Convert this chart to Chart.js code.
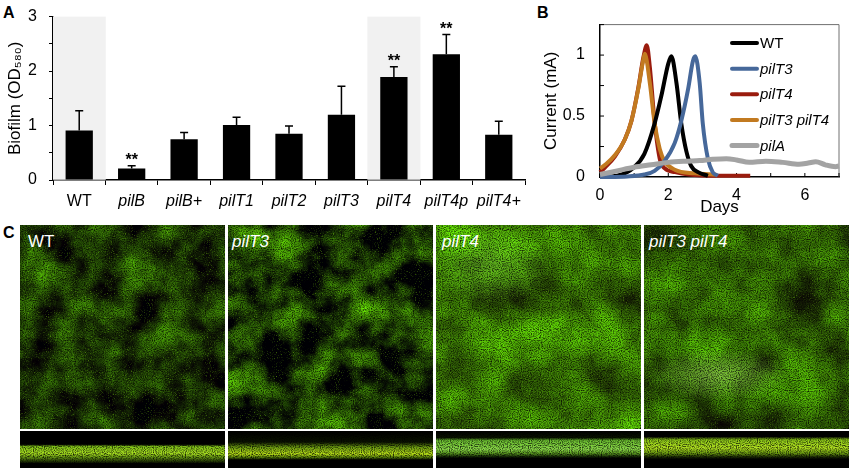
<!DOCTYPE html>
<html>
<head>
<meta charset="utf-8">
<script src="https://cdn.jsdelivr.net/npm/chart.js@4.4.0/dist/chart.umd.min.js"></script>
<style>
body{margin:0;background:#fff;width:852px;height:471px;overflow:hidden;position:relative;font-family:"Liberation Sans",Arial,sans-serif}
.plab{position:absolute;font-weight:bold;font-size:16px;color:#000;line-height:16px}
#boxA{position:absolute;left:0;top:-5px;width:540px;height:220px}
#boxB{position:absolute;left:535px;top:0;width:317px;height:225px}
.img{position:absolute;top:225px;width:205px;height:204px;background-color:#2a4a08}
.strip{position:absolute;top:431px;width:205px;height:37px;background-color:#000}
.ilab{position:absolute;top:232px;color:#fff;font-size:17px;line-height:20px}
.ilab i{font-style:italic}
</style>
</head>
<body>
<div class="plab" style="left:3px;top:5px">A</div>
<div class="plab" style="left:537px;top:5px">B</div>
<div class="plab" style="left:3px;top:225px">C</div>
<div id="boxA"><canvas id="chartA"></canvas></div>
<div id="boxB"><canvas id="chartB"></canvas></div>

<div class="img" id="c1" style="left:20px"></div>
<div class="img" id="c2" style="left:228px"></div>
<div class="img" id="c3" style="left:436px"></div>
<div class="img" id="c4" style="left:644px"></div>
<div class="strip" id="s1" style="left:20px"></div>
<div class="strip" id="s2" style="left:228px"></div>
<div class="strip" id="s3" style="left:436px"></div>
<div class="strip" id="s4" style="left:644px"></div>
<div class="ilab" style="left:28px">WT</div>
<div class="ilab" style="left:232px"><i>pilT3</i></div>
<div class="ilab" style="left:442px"><i>pilT4</i></div>
<div class="ilab" style="left:649px"><i>pilT3 pilT4</i></div>

<script>
// panel A: biofilm
const strains = ['WT', 'pilB', 'pilB+', 'pilT1', 'pilT2', 'pilT3', 'pilT4', 'pilT4p', 'pilT4+'];
const biofilm = [0.91, 0.21, 0.75, 1.01, 0.85, 1.20, 1.89, 2.31, 0.83];
const biofilmErr = [0.36, 0.05, 0.12, 0.14, 0.14, 0.52, 0.19, 0.36, 0.25];
const signif = ['', '**', '', '', '', '', '**', '**', ''];
const shaded = [3, null, null, null, null, null, 3, null, null];

// panel B: current vs days
const wtDays = [0, 0.5, 1.0, 1.3, 1.6, 1.8, 2.0, 2.09, 2.24, 2.38, 2.53, 2.67, 2.87, 3.16];
const wtCur = [0, 0.01, 0.08, 0.19, 0.44, 0.67, 0.93, 0.99, 0.77, 0.44, 0.21, 0.09, 0.04, 0.01];
const t3Days = [0, 0.8, 1.3, 1.6, 1.89, 2.19, 2.38, 2.58, 2.72, 2.79, 2.92, 3.01, 3.16, 3.3, 3.45];
const t3Cur = [0, 0.005, 0.02, 0.05, 0.13, 0.28, 0.46, 0.72, 0.95, 0.99, 0.77, 0.44, 0.15, 0.04, 0.01];
const t4Days = [0, 0.15, 0.44, 0.73, 0.92, 1.12, 1.27, 1.37, 1.46, 1.6, 1.75, 1.9, 2.2, 2.6, 3.4, 4.4];
const t4Cur = [0.04, 0.08, 0.17, 0.31, 0.46, 0.73, 0.98, 1.08, 0.90, 0.45, 0.15, 0.07, 0.04, 0.02, 0.01, 0.01];
const t34Days = [0, 0.15, 0.44, 0.73, 0.92, 1.12, 1.26, 1.31, 1.46, 1.6, 1.75, 1.89, 2.19, 2.77, 3.4];
const t34Cur = [0.07, 0.10, 0.18, 0.31, 0.46, 0.72, 0.95, 1.01, 0.77, 0.44, 0.23, 0.13, 0.06, 0.03, 0.02];
const pilADays = [0, 0.5, 1, 1.5, 2, 2.5, 2.92, 3.3, 3.7, 4.0, 4.37, 4.86, 5.35, 5.83, 6.1, 6.32, 6.6, 6.9, 7];
const pilACur = [0.02, 0.05, 0.08, 0.10, 0.12, 0.13, 0.135, 0.145, 0.15, 0.14, 0.12, 0.13, 0.12, 0.105, 0.115, 0.125, 0.10, 0.085, 0.09];

const FONT = '"Liberation Sans", Arial, sans-serif';
Chart.defaults.font.family = FONT;
Chart.defaults.color = '#000';

function pts(xs, ys) {
  return xs.map((x, i) => ({x: x, y: ys[i]}));
}

const errorBars = {
  id: 'errorBars',
  afterDatasetsDraw(chart) {
    const ctx = chart.ctx;
    const y = chart.scales.y;
    const meta = chart.getDatasetMeta(0);
    ctx.save();
    ctx.strokeStyle = '#000';
    ctx.lineWidth = 1.5;
    meta.data.forEach((bar, i) => {
      const top = y.getPixelForValue(biofilm[i] + biofilmErr[i]);
      ctx.beginPath();
      ctx.moveTo(bar.x, bar.y);
      ctx.lineTo(bar.x, top);
      ctx.moveTo(bar.x - 4, top);
      ctx.lineTo(bar.x + 4, top);
      ctx.stroke();
      if (signif[i]) {
        ctx.font = 'bold 16px ' + FONT;
        ctx.fillStyle = '#000';
        ctx.textAlign = 'center';
        ctx.textBaseline = 'alphabetic';
        ctx.fillText(signif[i], bar.x, top - 1);
      }
    });
    ctx.restore();
  }
};

new Chart(document.getElementById('chartA'), {
  type: 'bar',
  data: {
    labels: strains,
    datasets: [
      {data: biofilm, backgroundColor: '#000', barPercentage: 0.52, categoryPercentage: 1, grouped: false, order: 1},
      {data: shaded, backgroundColor: '#f1f1f1', barPercentage: 1, categoryPercentage: 1, grouped: false, order: 2}
    ]
  },
  options: {
    animation: false,
    responsive: true,
    maintainAspectRatio: false,
    events: [],
    layout: {padding: {top: 12, right: 15, left: 0, bottom: 0}},
    plugins: {legend: {display: false}, tooltip: {enabled: false}},
    scales: {
      x: {
        grid: {drawOnChartArea: false, color: '#000', tickLength: 5, offset: true},
        border: {color: '#000', width: 1.5},
        ticks: {
          padding: 7, maxRotation: 0, autoSkip: false,
          font: c => ({size: 16, style: c.index === 0 ? 'normal' : 'italic'})
        },
        afterFit: s => { s.height = 35; }
      },
      y: {
        min: 0, max: 3,
        ticks: {stepSize: 0.5, padding: 12, font: {size: 16}, callback: v => Number.isInteger(v) ? v : ''},
        grid: {drawOnChartArea: false, color: '#000', tickLength: 4},
        border: {color: '#000', width: 1.5},
        title: {display: true, text: 'Biofilm (OD₅₈₀)', font: {size: 17}, padding: {top: 5, bottom: 0}},
        afterFit: s => { s.width = 53; }
      }
    }
  },
  plugins: [errorBars]
});

const boxAndTicks = {
  id: 'boxAndTicks',
  beforeDatasetsDraw(chart) {
    const {ctx, chartArea: a, scales: {x, y}} = chart;
    ctx.save();
    ctx.strokeStyle = '#707070';
    ctx.lineWidth = 1;
    ctx.beginPath();
    ctx.moveTo(a.left, a.top);
    ctx.lineTo(a.right, a.top);
    ctx.lineTo(a.right, a.bottom);
    ctx.stroke();
    ctx.strokeStyle = '#000';
    ctx.beginPath();
    y.ticks.forEach(t => {
      const py = y.getPixelForValue(t.value);
      ctx.moveTo(a.left, py);
      ctx.lineTo(a.left + 4, py);
    });
    x.ticks.forEach(t => {
      const px = x.getPixelForValue(t.value);
      ctx.moveTo(px, a.bottom);
      ctx.lineTo(px, a.bottom - 4);
    });
    ctx.stroke();
    ctx.restore();
  }
};

const insideLegend = {
  id: 'insideLegend',
  afterDraw(chart) {
    const {ctx, chartArea: a} = chart;
    ctx.save();
    chart.data.datasets.forEach((ds, i) => {
      const y = a.top + 18.5 + i * 25.6;
      const x = a.left + 132;
      ctx.strokeStyle = ds.borderColor;
      ctx.lineWidth = ds.borderWidth;
      ctx.lineCap = 'round';
      ctx.beginPath();
      ctx.moveTo(x, y);
      ctx.lineTo(x + 25, y);
      ctx.stroke();
      ctx.font = (ds.label === 'WT' ? '' : 'italic ') + '15px ' + FONT;
      ctx.fillStyle = '#000';
      ctx.textBaseline = 'middle';
      ctx.textAlign = 'left';
      ctx.fillText(ds.label, x + 28, y + 1);
    });
    ctx.restore();
  }
};

function line(label, xs, ys, color, width, order) {
  return {
    label: label, data: pts(xs, ys), borderColor: color, borderWidth: width,
    pointRadius: 0, cubicInterpolationMode: 'monotone', order: order, clip: 4
  };
}

new Chart(document.getElementById('chartB'), {
  type: 'line',
  data: {
    datasets: [
      line('WT', wtDays, wtCur, '#000000', 4, 2),
      line('pilT3', t3Days, t3Cur, '#46689a', 4, 1),
      line('pilT4', t4Days, t4Cur, '#9a1c0e', 4, 4),
      line('pilT3 pilT4', t34Days, t34Cur, '#c27a20', 4, 3),
      line('pilA', pilADays, pilACur, '#a3a3a3', 5, 0)
    ]
  },
  options: {
    animation: false,
    responsive: true,
    maintainAspectRatio: false,
    events: [],
    layout: {padding: {top: 14.5, right: 13, left: 0, bottom: 0}},
    plugins: {legend: {display: false}, tooltip: {enabled: false}},
    scales: {
      x: {
        type: 'linear', min: 0, max: 7,
        ticks: {stepSize: 1, padding: 9, font: {size: 16}, callback: v => v % 2 === 0 ? v : ''},
        grid: {display: true, drawOnChartArea: false, drawTicks: false},
        border: {color: '#000', width: 1.5},
        title: {display: true, text: 'Days', font: {size: 17}, padding: {top: 0, bottom: 7}},
        afterFit: s => { s.height = 48; }
      },
      y: {
        min: 0, max: 1.25,
        ticks: {stepSize: 0.25, padding: 15, font: {size: 16}, callback: v => (v === 0 || v === 0.5 || v === 1) ? v : ''},
        grid: {display: true, drawOnChartArea: false, drawTicks: false},
        border: {color: '#000', width: 1.5},
        title: {display: true, text: 'Current (mA)', font: {size: 17}, padding: {top: 6, bottom: 0}},
        afterFit: s => { s.width = 65; }
      }
    }
  },
  plugins: [boxAndTicks, insideLegend]
});

// panel C: micrograph stand-ins built from svg noise textures
function noise(seed, freq, oct, m) {
  const svg = "<svg xmlns='http://www.w3.org/2000/svg' width='205' height='204'>" +
    "<filter id='n' x='0' y='0' width='100%' height='100%' color-interpolation-filters='sRGB'>" +
    "<feTurbulence type='fractalNoise' baseFrequency='" + freq + "' numOctaves='" + oct + "' seed='" + seed + "'/>" +
    "<feColorMatrix type='matrix' values='" + m + "'/></filter>" +
    "<rect width='205' height='204' filter='url(#n)'/></svg>";
  return 'url("data:image/svg+xml,' + encodeURIComponent(svg) + '")';
}
function blob(seed, freq, rA, rB, gA, gB) {
  return noise(seed, freq, 5, rA + ' 0 0 0 ' + rB + ' ' + gA + ' 0 0 0 ' + gB + ' 0 0 0 0 0.02 0 0 0 0 1');
}
const darkGrain = noise(11, 0.9, 1, '0 0 0 0 0 0 0 0 0 0 0 0 0 0 0 -2.2 0 0 0 1.3');
const brightGrain = noise(17, 0.95, 1, '0 0 0 0 0.5 0 0 0 0 0.85 0 0 0 0 0.05 2.0 0 0 0 -1.15');

const panels = [
  ['c1', blob(3, 0.03, 0.5, -0.13, 1.2, -0.36), ''],
  ['c2', blob(8, 0.028, 0.8, -0.28, 1.8, -0.64), ''],
  ['c3', blob(5, 0.022, 0.4, 0.06, 1.0, 0.05), 'radial-gradient(ellipse 60px 40px at 55px 40px, rgba(150,230,90,0.3), rgba(150,230,90,0))'],
  ['c4', blob(9, 0.022, 0.4, 0.02, 1.0, -0.04), 'radial-gradient(ellipse 70px 26px at 75px 150px, rgba(170,235,100,0.6), rgba(170,235,100,0))']
];
panels.forEach(p => {
  const layers = [darkGrain, brightGrain];
  if (p[2]) layers.push(p[2]);
  layers.push(p[1]);
  document.getElementById(p[0]).style.backgroundImage = layers.join(',');
});
const strips = [
  ['s1', 'linear-gradient(to bottom, #000 0%, #000 36%, #7fc018 42%, #a8e020 60%, #5c8a10 72%, #1a2a04 84%, #000 88%)'],
  ['s2', 'linear-gradient(to bottom, #000 0%, #0a1200 30%, #6a9a10 44%, #b8e018 62%, #4a7008 72%, #000 78%)'],
  ['s3', 'linear-gradient(to bottom, #000 0%, #0a1400 18%, #6cc030 26%, #8ad848 50%, #5a9a20 60%, #102004 70%, #000 74%)'],
  ['s4', 'linear-gradient(to bottom, #000 0%, #000 15%, #8cc818 24%, #b0e020 45%, #6a9a10 60%, #1c2c04 70%, #000 76%)']
];
strips.forEach(s => {
  document.getElementById(s[0]).style.backgroundImage = darkGrain + ',' + s[1];
});
</script>
</body>
</html>
